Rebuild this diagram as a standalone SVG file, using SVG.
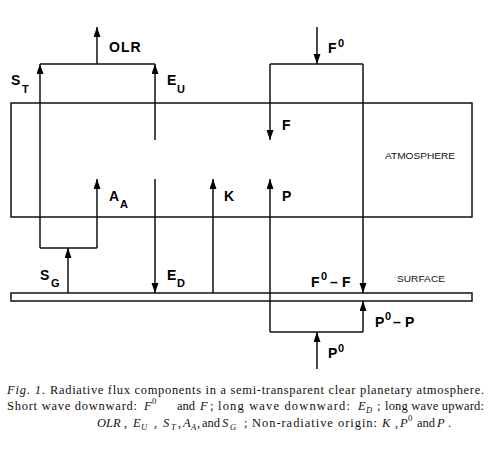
<svg xmlns="http://www.w3.org/2000/svg" width="491" height="464" viewBox="0 0 491 464">
<defs>
<marker id="ah" markerUnits="userSpaceOnUse" markerWidth="11" markerHeight="8" refX="10" refY="3.5" orient="auto">
<path d="M0,0 L10,3.5 L0,7 z" fill="#000"/>
</marker>
<style>
.ln{stroke:#111;stroke-width:1.5;fill:none}
.ar{stroke:#111;stroke-width:1.5;fill:none;marker-end:url(#ah)}
.lb{font-family:"Liberation Sans",Arial,sans-serif;font-weight:bold;font-size:14px;fill:#000;letter-spacing:1px}
.sb{font-size:11px;letter-spacing:0}
.sm{font-family:"Liberation Sans",Arial,sans-serif;font-size:9.5px;fill:#111}
.cp{font-family:"Liberation Serif","Times New Roman",serif;font-size:12.5px;fill:#111}
.it{font-style:italic}
.cs{font-size:8.5px;font-style:italic}
.cu{font-size:8.5px}
</style>
</defs>
<rect width="491" height="464" fill="#fff"/>
<g id="atmosphere">
<rect class="ln" x="11" y="103" width="461" height="114"/>
<text class="sm" x="385" y="159" textLength="70" lengthAdjust="spacingAndGlyphs">ATMOSPHERE</text>
</g>
<g id="surface">
<rect class="ln" x="11" y="293" width="461" height="8"/>
<text class="sm" x="397" y="282" textLength="48" lengthAdjust="spacingAndGlyphs">SURFACE</text>
</g>
<g id="connectors">
<polyline class="ln" points="40,248 97,248"/>
<path class="ar" d="M40,248 L40,64"/>
<path class="ln" d="M40,64 L155,64"/>
<path class="ar" d="M155,140 L155,64"/>
<path class="ar" d="M97,64 L97,27"/>
<path class="ar" d="M97,248 L97,179"/>
<path class="ar" d="M68,293 L68,248"/>
<path class="ar" d="M155,179 L155,293"/>
<path class="ar" d="M213,293 L213,179"/>
<path class="ar" d="M317,27 L317,64"/>
<path class="ln" d="M270,64 L363,64"/>
<path class="ar" d="M270,64 L270,140"/>
<path class="ar" d="M363,64 L363,293"/>
<path class="ar" d="M270,332 L270,179"/>
<path class="ln" d="M270,332 L363,332"/>
<path class="ar" d="M363,332 L363,301"/>
<path class="ar" d="M317,369 L317,332"/>
</g>
<g id="labels">
<text class="lb" x="109" y="52">OLR</text>
<text class="lb" x="11" y="85">S<tspan class="sb" x="22" y="93">T</tspan></text>
<text class="lb" x="167" y="85">E<tspan class="sb" x="177" y="93">U</tspan></text>
<text class="lb" x="328" y="53">F<tspan class="sb" x="338" y="47">0</tspan></text>
<text class="lb" x="282" y="130">F</text>
<text class="lb" x="109" y="201">A<tspan class="sb" x="120" y="208">A</tspan></text>
<text class="lb" x="224" y="201">K</text>
<text class="lb" x="282" y="201">P</text>
<text class="lb" x="40" y="280">S<tspan class="sb" x="51" y="287">G</tspan></text>
<text class="lb" x="167" y="280">E<tspan class="sb" x="177" y="287">D</tspan></text>
<text class="lb" x="311" y="287">F<tspan class="sb" x="321" y="280">0</tspan><tspan x="330" y="287">–</tspan><tspan x="342" y="287">F</tspan></text>
<text class="lb" x="375" y="327">P<tspan class="sb" x="385" y="320">0</tspan><tspan x="393" y="327">–</tspan><tspan x="405" y="327">P</tspan></text>
<text class="lb" x="328" y="358">P<tspan class="sb" x="338" y="352">0</tspan></text>
</g>
<g id="caption">
<text class="cp it" x="7" y="394" textLength="38" lengthAdjust="spacing">Fig. 1.</text>
<text class="cp" x="50" y="394" textLength="434" lengthAdjust="spacing">Radiative flux components in a semi-transparent clear planetary atmosphere.</text>
<text class="cp" x="7" y="410" textLength="130" lengthAdjust="spacing">Short wave downward:</text>
<text class="cp it" x="144" y="410">F</text><text class="cp cu" x="152" y="404">0</text>
<text class="cp" x="177" y="410">and</text>
<text class="cp it" x="200" y="410">F</text>
<text class="cp" x="210" y="410">;</text>
<text class="cp" x="218" y="410" textLength="132" lengthAdjust="spacing">long wave downward:</text>
<text class="cp it" x="358" y="410">E</text><text class="cp cs" x="366" y="413">D</text>
<text class="cp" x="377" y="410">;</text>
<text class="cp" x="385" y="410" textLength="99" lengthAdjust="spacing">long wave upward:</text>
<text class="cp it" x="97" y="427">OLR</text>
<text class="cp" x="124" y="427">,</text>
<text class="cp it" x="133" y="427">E</text><text class="cp cs" x="141" y="430">U</text>
<text class="cp" x="154" y="427">,</text>
<text class="cp it" x="163" y="427">S</text><text class="cp cs" x="171" y="430">T</text>
<text class="cp" x="178" y="427">,</text>
<text class="cp it" x="183" y="427">A</text><text class="cp cs" x="191" y="430">A</text>
<text class="cp" x="197" y="427">,</text>
<text class="cp" x="202" y="427">and</text>
<text class="cp it" x="222" y="427">S</text><text class="cp cs" x="230" y="430">G</text>
<text class="cp" x="244" y="427">;</text>
<text class="cp" x="252" y="427" textLength="125" lengthAdjust="spacing">Non-radiative origin:</text>
<text class="cp it" x="382" y="427">K</text>
<text class="cp" x="395" y="427">,</text>
<text class="cp it" x="400" y="427">P</text><text class="cp cu" x="408" y="421">0</text>
<text class="cp" x="417" y="427">and</text>
<text class="cp it" x="437" y="427">P</text>
<text class="cp" x="448" y="427">.</text>
</g>
</svg>
